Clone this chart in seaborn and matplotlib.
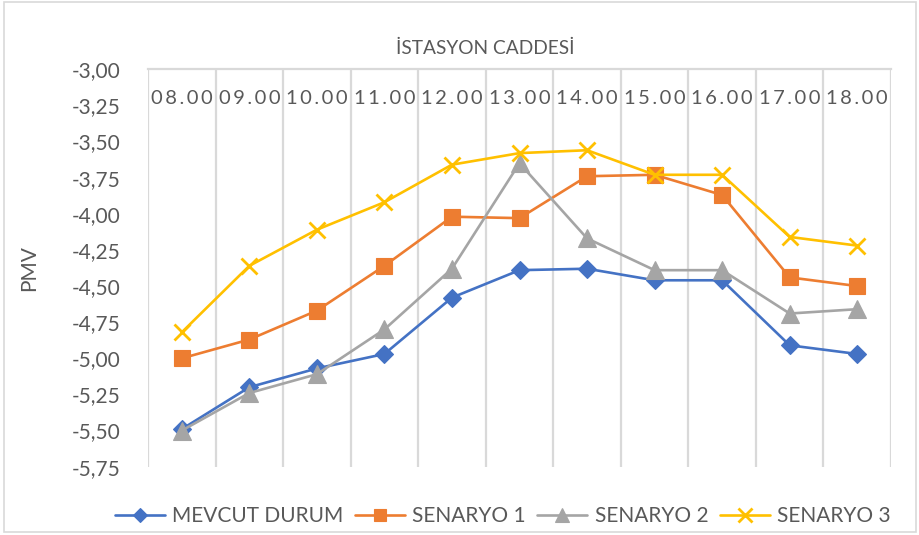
import matplotlib
matplotlib.use("Agg")
import matplotlib.pyplot as plt
from matplotlib.patches import Rectangle
from matplotlib.ticker import FixedLocator, FuncFormatter
import numpy as np
import pandas as pd
import seaborn as sns

# Hourly PMV values per scenario
hours = ["08.00", "09.00", "10.00", "11.00", "12.00", "13.00",
         "14.00", "15.00", "16.00", "17.00", "18.00"]
mevcut_durum = [-5.49, -5.20, -5.07, -4.97, -4.58, -4.39, -4.38, -4.46, -4.46, -4.91, -4.97]
senaryo_1 = [-5.00, -4.87, -4.67, -4.36, -4.02, -4.03, -3.74, -3.73, -3.87, -4.44, -4.50]
senaryo_2 = [-5.50, -5.24, -5.11, -4.80, -4.38, -3.65, -4.17, -4.39, -4.39, -4.69, -4.66]
senaryo_3 = [-4.82, -4.36, -4.11, -3.92, -3.66, -3.58, -3.56, -3.73, -3.73, -4.16, -4.22]
series_names = ["MEVCUT DURUM", "SENARYO 1", "SENARYO 2", "SENARYO 3"]
y_ticks = [-3.00, -3.25, -3.50, -3.75, -4.00, -4.25, -4.50, -4.75, -5.00, -5.25, -5.50, -5.75]
title = "İSTASYON CADDESİ"
y_label = "PMV"

colors = ["#4472C4", "#ED7D31", "#A5A5A5", "#FFC000"]
markers = ["D", "s", "^", "x"]
msizes = [9.5, 11.5, 12.5, 12]

sns.set_theme(style="white")
plt.rcParams["font.family"] = ["Lato", "DejaVu Sans"]
text_color = "#595959"
grid_color = "#D9D9D9"

df = pd.DataFrame({
    "x": np.tile(np.arange(len(hours)), len(series_names)),
    "PMV": mevcut_durum + senaryo_1 + senaryo_2 + senaryo_3,
    "series": np.repeat(series_names, len(hours)),
})

fig = plt.figure(figsize=(9.19, 5.35), dpi=100)
ax = fig.add_axes([148 / 919, 1 - 466.7 / 535, (891 - 148) / 919, (466.7 - 69.3) / 535])

for name, col, mk, ms in zip(series_names, colors, markers, msizes):
    sub = df[df["series"] == name]
    sns.lineplot(data=sub, x="x", y="PMV", ax=ax, color=col, linewidth=1.9,
                 marker=mk, markersize=ms, markeredgecolor=col,
                 markeredgewidth=2.0 if mk == "x" else 0.8,
                 markerfacecolor=col, label=name, zorder=3)

ax.set_xlim(-0.5, len(hours) - 0.5)
ax.set_ylim(-5.75, -3.00)

# category labels along the top edge, category separators as vertical grid
ax.xaxis.tick_top()
ax.set_xticks(np.arange(len(hours)))
spaced = ["\u2009".join(h) for h in hours]
ax.set_xticklabels(spaced)
ax.xaxis.set_minor_locator(FixedLocator(np.arange(-0.5, len(hours), 1.0)))
ax.tick_params(axis="x", which="major", length=0, pad=-27, labelsize=14.5,
               labelcolor=text_color)
ax.tick_params(axis="x", which="minor", length=0)
ax.grid(which="minor", axis="x", color=grid_color, linewidth=1.6)
ax.grid(which="major", axis="x", visible=False)
ax.grid(axis="y", visible=False)

ax.set_yticks(y_ticks)
ax.yaxis.set_major_formatter(FuncFormatter(lambda v, p: f"{v:.2f}".replace(".", ",")))
ax.tick_params(axis="y", length=0, pad=20, labelsize=15, labelcolor=text_color)

for s in ["left", "right", "bottom"]:
    ax.spines[s].set_visible(False)
ax.spines["top"].set_color(grid_color)
ax.spines["top"].set_linewidth(1.6)

ax.set_xlabel("")
ax.set_ylabel(y_label, fontsize=15, color=text_color)
ax.yaxis.set_label_coords(-0.146, 0.5)

fig.text(485 / 919, 1 - 48 / 535, title, ha="center", va="center",
         fontsize=13.8, color=text_color)

if ax.legend_:
    ax.legend_.remove()
handles, labels = ax.get_legend_handles_labels()
fig.legend(handles, labels, loc="center", bbox_to_anchor=(0.547, 1 - 516 / 535),
           ncol=4, frameon=False, fontsize=15, handlelength=2.4,
           columnspacing=0.55, handletextpad=0.35, markerscale=0.8,
           labelcolor=text_color)

fig.patches.append(Rectangle((4 / 919, 3 / 535), 912 / 919, 530 / 535,
                             transform=fig.transFigure, fill=False,
                             edgecolor=grid_color, linewidth=1.2))

fig.savefig("out.png", dpi=100)
